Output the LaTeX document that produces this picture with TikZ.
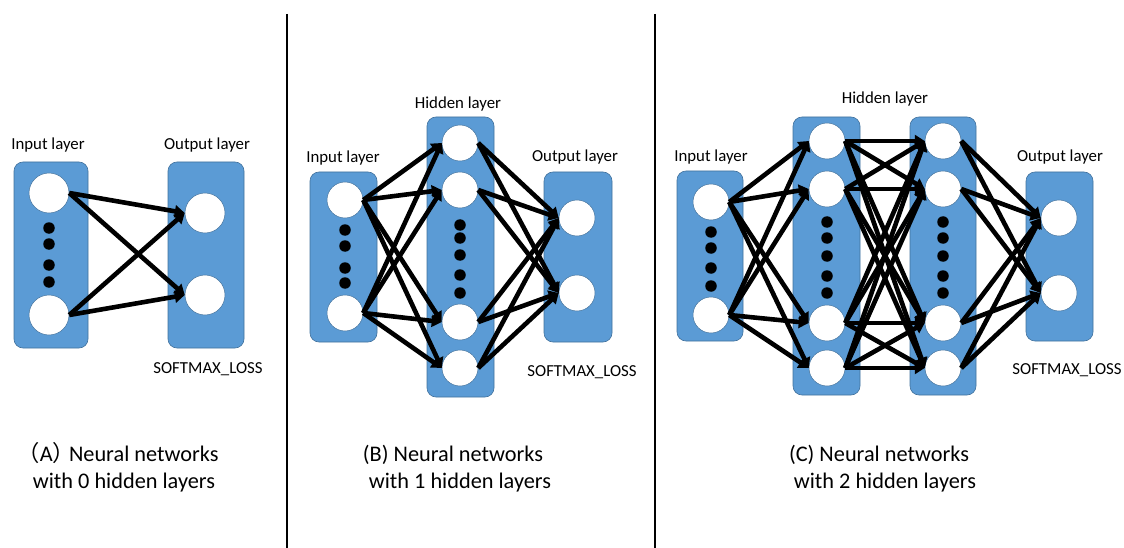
\documentclass[tikz,border=0pt]{standalone}
\usepackage{fontspec}
\setmainfont{Carlito}
\newfontfamily\cjkfont{Noto Sans CJK SC}
\usetikzlibrary{arrows.meta}
\definecolor{layerblue}{RGB}{91,155,213}
\definecolor{layeredge}{RGB}{65,113,156}
\begin{document}
\begin{tikzpicture}[x=1pt,y=-1pt,
  layerbox/.style={fill=layerblue,draw=layeredge,line width=0.6pt,rounded corners=9pt},
  neuron/.style={circle,fill=white,draw=layeredge,line width=0.5pt,inner sep=0pt,minimum size=36pt},
  bigneuron/.style={neuron,minimum size=40pt},
  dotn/.style={circle,fill=black,inner sep=0pt,minimum size=11.5pt},
  conn/.style={line width=4.6pt,-{Triangle[length=10pt,width=12pt]}},
  lbl/.style={font=\fontsize{16.8}{19}\selectfont,inner sep=0pt},
  captext/.style={font=\fontsize{22.3}{27}\selectfont,align=center,inner sep=0pt},
  divider/.style={line width=1.8pt}]
\useasboundingbox (0,0) rectangle (1124,548);

% panel dividers
\draw[divider] (287,14) -- (287,548);
\draw[divider] (655,14) -- (655,548);

% ---------- (A) no hidden layer ----------
\draw[layerbox] (14,162) rectangle (88,348);
\draw[layerbox] (168,162) rectangle (244,348);
\node[bigneuron] (ai1) at (49,193) {};
\node[bigneuron] (ai2) at (49,315) {};
\foreach \y [count=\k] in {228,244,265,282} \node[dotn] (ad\k) at (49,\y) {};
\node[bigneuron] (ao1) at (205,213) {};
\node[bigneuron] (ao2) at (205,295) {};
\foreach \i in {1,2} \foreach \o in {1,2} \draw[conn] (ai\i.east) -- (ao\o.west);
\node[lbl] (alin) at (48,145) {Input layer};
\node[lbl] (alout) at (207,145) {Output layer};
\node[lbl] (alloss) at (208,369) {SOFTMAX\_LOSS};
\node[captext] (acap) at (118,467) {{\cjkfont （}A{\cjkfont ）}\kern-6pt Neural networks\\\hspace*{12pt}with 0 hidden layers};

% ---------- (B) one hidden layer ----------
\draw[layerbox] (310,172) rectangle (377,342);
\draw[layerbox] (427,117) rectangle (494,397);
\draw[layerbox] (544,172) rectangle (612,342);
\node[neuron] (bi1) at (345,200) {};
\node[neuron] (bi2) at (345,313) {};
\foreach \y [count=\k] in {230,246,268,283} \node[dotn] (bdi\k) at (345,\y) {};
\foreach \y [count=\k] in {143,190,322,368} \node[neuron] (bh\k) at (460,\y) {};
\foreach \y [count=\k] in {225,238,255,275,293} \node[dotn] (bdh\k) at (460,\y) {};
\node[neuron] (bo1) at (577,218) {};
\node[neuron] (bo2) at (577,293) {};
\foreach \i in {1,2} \foreach \h in {1,...,4} \draw[conn] (bi\i.east) -- (bh\h.west);
\foreach \h in {1,...,4} \foreach \o in {1,2} \draw[conn] (bh\h.east) -- (bo\o.west);
\node[lbl] (blhid) at (458,104) {Hidden layer};
\node[lbl] (blin) at (343,158) {Input layer};
\node[lbl] (blout) at (575,157) {Output layer};
\node[lbl] (blloss) at (582,372) {SOFTMAX\_LOSS};
\node[captext] (bcap) at (453,469) {(B) Neural networks\\\hspace*{14pt}with 1 hidden layers};

% ---------- (C) two hidden layers ----------
\draw[layerbox] (677,171) rectangle (743,341);
\draw[layerbox] (793,117) rectangle (860,395);
\draw[layerbox] (910,117) rectangle (976,395);
\draw[layerbox] (1026,172) rectangle (1093,341);
\node[neuron] (ci1) at (711,202) {};
\node[neuron] (ci2) at (711,315) {};
\foreach \y [count=\k] in {232,248,268,286} \node[dotn] (cdi\k) at (711,\y) {};
\foreach \y [count=\k] in {141,189,323,368} {
  \node[neuron] (cg\k) at (827,\y) {};
  \node[neuron] (ch\k) at (943,\y) {};
}
\foreach \y [count=\k] in {222,238,256,276,293} {
  \node[dotn] (cdg\k) at (827,\y) {};
  \node[dotn] (cdh\k) at (943,\y) {};
}
\node[neuron] (co1) at (1059,218) {};
\node[neuron] (co2) at (1059,293) {};
\foreach \i in {1,2} \foreach \h in {1,...,4} \draw[conn] (ci\i.east) -- (cg\h.west);
\foreach \g in {1,...,4} \foreach \h in {1,...,4} \draw[conn] (cg\g.east) -- (ch\h.west);
\foreach \h in {1,...,4} \foreach \o in {1,2} \draw[conn] (ch\h.east) -- (co\o.west);
\node[lbl] (clhid) at (885,99) {Hidden layer};
\node[lbl] (clin) at (711,157) {Input layer};
\node[lbl] (clout) at (1060,157) {Output layer};
\node[lbl] (clloss) at (1067,370) {SOFTMAX\_LOSS};
\node[captext] (ccap) at (879,469) {(C) Neural networks\\\hspace*{12pt}with 2 hidden layers};
\end{tikzpicture}
\end{document}
